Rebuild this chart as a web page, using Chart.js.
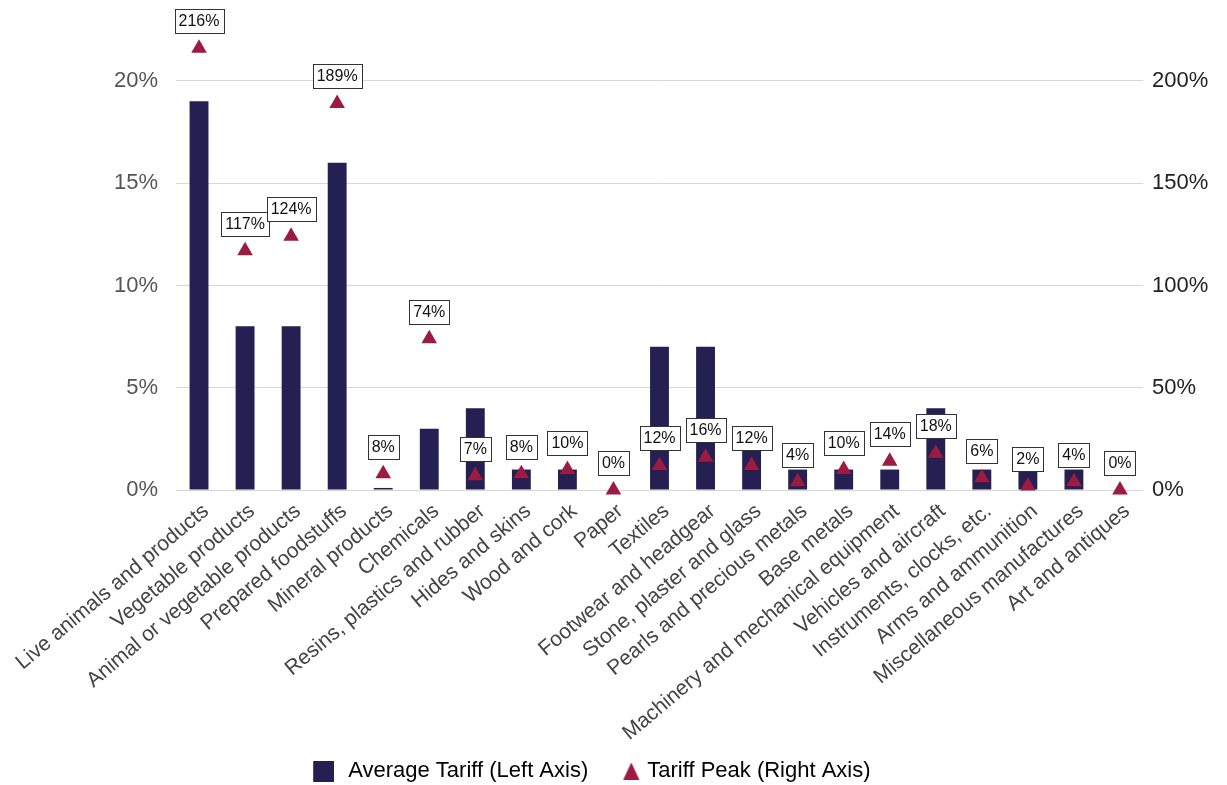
<!DOCTYPE html>
<html>
<head>
<meta charset="utf-8">
<script src="https://cdn.jsdelivr.net/npm/chart.js@4"></script>
<style>
  html, body { margin: 0; padding: 0; background: #fff; }
  #wrap { width: 1227px; height: 785px; }
</style>
</head>
<body>
<div id="wrap"><canvas id="tariffChart"></canvas></div>
<script>
const categories = [
  "Live animals and products", "Vegetable products", "Animal or vegetable products",
  "Prepared foodstuffs", "Mineral products", "Chemicals", "Resins, plastics and rubber",
  "Hides and skins", "Wood and cork", "Paper", "Textiles", "Footwear and headgear",
  "Stone, plaster and glass", "Pearls and precious metals", "Base metals",
  "Machinery and mechanical equipment", "Vehicles and aircraft", "Instruments, clocks, etc.",
  "Arms and ammunition", "Miscellaneous manufactures", "Art and antiques"
];
const averageTariff = [19, 8, 8, 16, 0.1, 3, 4, 1, 1, 0, 7, 7, 2, 1, 1, 1, 4, 1, 1, 1, 0];
const tariffPeak = [216, 117, 124, 189, 8, 74, 7, 8, 10, 0, 12, 16, 12, 4, 10, 14, 18, 6, 2, 4, 0];
const leftTicks = [0, 5, 10, 15, 20];
const rightTicks = [0, 50, 100, 150, 200];

const FONT = "'Liberation Sans', Arial, Helvetica, sans-serif";
const BAR_COLOR = "#261f52";
const PEAK_COLOR = "#9b1b42";

// iconos de la leyenda (el símbolo va desplazado dentro del lienzo)
function legendIcon(kind) {
  const c = document.createElement("canvas");
  const g = c.getContext("2d");
  if (kind === "rect") {
    c.width = 42; c.height = 21;
    g.fillStyle = BAR_COLOR;
    g.fillRect(21, 0, 21, 21);
  } else {
    c.width = 56; c.height = 17;
    g.fillStyle = PEAK_COLOR;
    g.beginPath();
    g.moveTo(39 + 8, 0);
    g.lineTo(39 + 16, 17);
    g.lineTo(39, 17);
    g.closePath();
    g.fill();
  }
  return c;
}
const icons = [legendIcon("rect"), legendIcon("triangle")];
const legendTexts = ["Average Tariff (Left Axis)", "Tariff Peak (Right Axis)           "];

// cajas con el valor encima de cada triángulo
const peakLabels = {
  id: "peakLabels",
  afterDatasetsDraw(chart) {
    const ctx = chart.ctx;
    const meta = chart.getDatasetMeta(1);
    ctx.save();
    ctx.font = "16px " + FONT;
    ctx.textAlign = "center";
    ctx.textBaseline = "middle";
    meta.data.forEach((pt, i) => {
      const txt = tariffPeak[i] + "%";
      const w = Math.round(ctx.measureText(txt).width + 8);
      const h = 24;
      const x0 = Math.round(pt.x - w / 2);
      const y0 = Math.round(pt.y - 27 - h / 2);
      ctx.fillStyle = "#fff";
      ctx.fillRect(x0, y0, w, h);
      ctx.strokeStyle = "#333";
      ctx.lineWidth = 1;
      ctx.strokeRect(x0 + 0.5, y0 + 0.5, w, h);
      ctx.fillStyle = "#111";
      ctx.fillText(txt, pt.x, y0 + h / 2 + 1);
    });
    ctx.restore();
  }
};

new Chart(document.getElementById("tariffChart"), {
  type: "bar",
  data: {
    labels: categories,
    datasets: [
      {
        label: "Average Tariff (Left Axis)",
        data: averageTariff,
        backgroundColor: BAR_COLOR,
        yAxisID: "y",
        barPercentage: 0.41,
        categoryPercentage: 1,
        order: 2
      },
      {
        label: "Tariff Peak (Right Axis)",
        type: "line",
        data: tariffPeak,
        yAxisID: "y1",
        showLine: false,
        pointStyle: "triangle",
        pointRadius: 9,
        backgroundColor: PEAK_COLOR,
        borderColor: PEAK_COLOR,
        borderWidth: 0,
        clip: false,
        order: 1
      }
    ]
  },
  options: {
    responsive: true,
    maintainAspectRatio: false,
    animation: false,
    layout: { padding: { top: 40, left: 0, right: 0, bottom: -7 } },
    plugins: {
      tooltip: { enabled: false },
      legend: {
        position: "bottom",
        labels: {
          usePointStyle: true,
          pointStyleWidth: 48,
          font: { family: FONT, size: 22 },
          color: "#111",
          padding: 0,
          generateLabels(chart) {
            return chart.data.datasets.map((ds, i) => ({
              text: legendTexts[i],
              fillStyle: ds.backgroundColor,
              strokeStyle: ds.backgroundColor,
              lineWidth: 0,
              pointStyle: icons[i],
              datasetIndex: i
            }));
          }
        }
      }
    },
    scales: {
      x: {
        grid: { display: false },
        border: { display: false },
        afterFit(scale) { scale.height = 270; },
        ticks: {
          font: { family: FONT, size: 21 },
          color: "#444",
          minRotation: 40,
          maxRotation: 40,
          autoSkip: false,
          labelOffset: 7,
          padding: 1
        }
      },
      y: {
        position: "left",
        min: 0,
        max: 22,
        afterFit(scale) { scale.width = 176; },
        afterBuildTicks(scale) { scale.ticks = leftTicks.map(v => ({ value: v })); },
        grid: { color: "#d6d6d6", drawTicks: false },
        border: { display: false },
        ticks: {
          font: { family: FONT, size: 22 },
          color: "#555",
          padding: 18,
          callback: v => v + "%"
        }
      },
      y1: {
        position: "right",
        min: 0,
        max: 220,
        afterFit(scale) { scale.width = 84; },
        afterBuildTicks(scale) { scale.ticks = rightTicks.map(v => ({ value: v })); },
        grid: { drawOnChartArea: false, drawTicks: false },
        border: { display: false },
        ticks: {
          font: { family: FONT, size: 22 },
          color: "#222",
          padding: 9,
          callback: v => v + "%"
        }
      }
    }
  },
  plugins: [peakLabels]
});
</script>
</body>
</html>
